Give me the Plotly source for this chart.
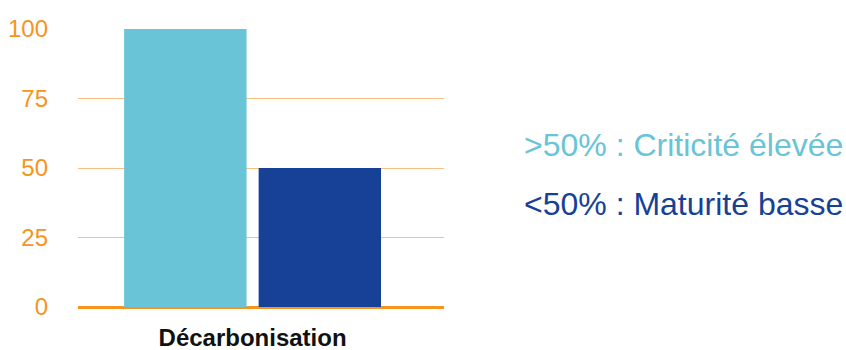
import plotly.graph_objects as go

categories = ["Décarbonisation"]
series_names = [">50% : Criticité élevée", "<50% : Maturité basse"]
series_values = [[100], [50]]
series_colors = ["#68C4D6", "#174196"]
y_ticks = [0, 25, 50, 75, 100]

W, H = 846, 350
L, R, T, B = 78, 402, 29, 43
pw, ph = W - L - R, H - T - B

fig = go.Figure()
for name, vals, col in zip(series_names, series_values, series_colors):
    fig.add_trace(go.Bar(x=categories, y=vals, name=name, marker=dict(color=col, line=dict(width=0)),
                         showlegend=False))

# legend as text annotations
legend_px_y = [145, 204]
for name, col, py in zip(series_names, series_colors, legend_px_y):
    fig.add_annotation(text=name, xref="paper", yref="paper",
                       x=(522 - L) / pw, y=(H - B - py) / ph,
                       xanchor="left", yanchor="middle", showarrow=False,
                       font=dict(family="Liberation Sans, Arial", size=32, color=col))

fig.update_layout(
    width=W, height=H,
    margin=dict(l=L, r=R, t=T, b=B, pad=0, autoexpand=False),
    paper_bgcolor="white", plot_bgcolor="white",
    barmode="group", bargap=0.265, bargroupgap=0.09,
    font=dict(family="Liberation Sans, Arial"),
)
fig.update_xaxes(type="category", range=[-0.477, 0.523], showgrid=False, showline=False,
                 ticks="", automargin=False,
                 tickfont=dict(family="Liberation Sans, Arial", size=24, color="#111111",
                               weight="bold"),
                 ticklabelstandoff=14)
fig.update_yaxes(range=[0, 100], tickvals=y_ticks, ticktext=[str(v) for v in y_ticks],
                 showgrid=True, gridcolor="#F9C083", gridwidth=1,
                 zeroline=True, zerolinecolor="#F7941D", zerolinewidth=3,
                 showline=False, ticks="", automargin=False,
                 tickfont=dict(family="Liberation Sans, Arial", size=24, color="#F7941D"),
                 ticklabelstandoff=29)

fig.write_html("out.html")
